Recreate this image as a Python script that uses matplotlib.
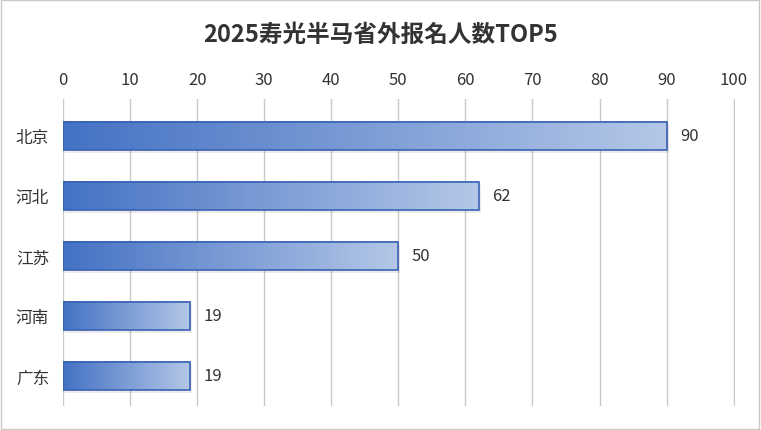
import numpy as np
import matplotlib.pyplot as plt
from matplotlib import font_manager
from matplotlib.colors import LinearSegmentedColormap
from matplotlib.patches import Rectangle

# pick whichever CJK family is actually registered
names = {f.name for f in font_manager.fontManager.ttflist}
cjk = [n for n in ['Noto Sans CJK SC', 'Noto Sans CJK JP', 'Noto Sans CJK TC',
                   'Noto Sans CJK KR'] if n in names]
if not cjk:
    cjk = [f.name for f in font_manager.fontManager.ttflist if 'CJK' in f.name][:1]
plt.rcParams['font.family'] = cjk + ['DejaVu Sans']

provinces = ['北京', '河北', '江苏', '河南', '广东']
counts = [90, 62, 50, 19, 19]
ticks = list(range(0, 101, 10))

fig = plt.figure(figsize=(7.61, 4.31), dpi=100)
fig.patches.append(Rectangle((0.001, 0.002), 0.997, 0.995, transform=fig.transFigure,
                             fill=False, edgecolor='#c8c8c8', linewidth=1))
ax = fig.add_axes([0.0828, 0.056, 0.883, 0.712])

cmap = LinearSegmentedColormap.from_list('g', ['#4472C4', '#B4C7E7'])
grad = np.linspace(0, 1, 256).reshape(1, -1)
h = 0.47
for i, v in enumerate(counts):
    # faint shadow
    ax.add_patch(Rectangle((0.3, i - h / 2 + 0.05), v, h, facecolor='#000000',
                           alpha=0.08, edgecolor='none', zorder=2))
    ax.imshow(grad, cmap=cmap, extent=[0, v, i + h / 2, i - h / 2],
              aspect='auto', zorder=3)
    ax.add_patch(Rectangle((0, i - h / 2), v, h, fill=False,
                           edgecolor='#3A62B5', linewidth=1.2, zorder=4))
    ax.text(v + 2, i, str(v), va='center', ha='left', fontsize=12, color='#333333')

ax.set_xlim(0, 100.2)
ax.set_ylim(4.5, -0.617)
ax.set_xticks(ticks)
ax.set_yticks(range(len(provinces)))
ax.set_yticklabels(provinces)
ax.xaxis.tick_top()
ax.tick_params(axis='x', length=0, labelsize=12, labelcolor='#333333', pad=8)
ax.tick_params(axis='y', length=0, labelsize=12, labelcolor='#333333', pad=10)
ax.grid(axis='x', color='#c8c8c8', linewidth=1)
ax.set_axisbelow(True)
for s in ax.spines.values():
    s.set_visible(False)

fig.text(0.5, 0.92, '2025寿光半马省外报名人数TOP5', ha='center', va='center',
         fontsize=17, fontweight='bold', color='#333333')

fig.savefig('out.png', dpi=100)
